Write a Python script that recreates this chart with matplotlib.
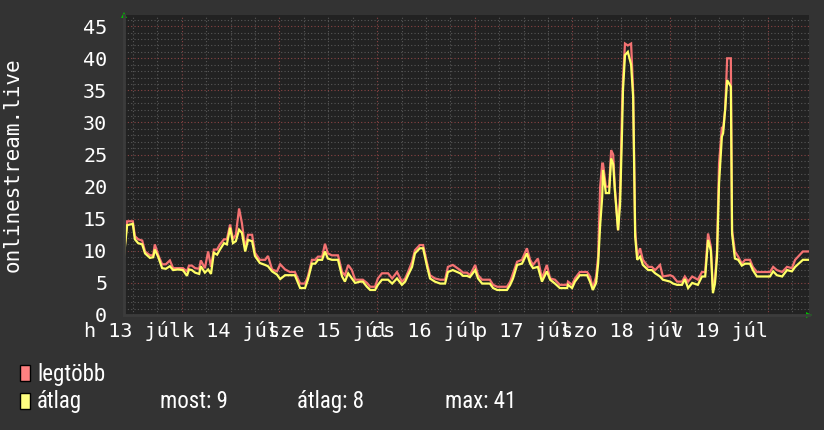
import matplotlib
matplotlib.use("Agg")
import matplotlib.pyplot as plt
from matplotlib import font_manager
from matplotlib.patches import Rectangle

# ido: orak 2015 jul 13 00:00-tol
hours = [
    9.8, 10.6, 12.0, 12.5, 13.3, 14.3, 15.0, 16.2, 17.0, 17.4, 18.2, 19.2, 20.1, 21.1,
    21.9, 23.1, 24.3, 25.3, 25.8, 26.5, 27.3, 28.3, 28.7, 29.7, 30.5, 31.2, 31.9, 32.7,
    33.4, 34.4, 35.1, 35.9, 36.6, 37.3, 38.1, 38.8, 39.6, 40.3, 41.3, 42.0, 43.2, 44.5,
    45.2, 46.2, 47.4, 48.2, 49.4, 50.6, 51.8, 53.1, 54.3, 55.0, 56.0, 56.8, 57.5, 58.5,
    59.2, 59.9, 60.9, 62.4, 63.4, 64.1, 64.9, 65.8, 66.6, 67.8, 68.5, 69.5, 70.3, 71.5,
    72.2, 73.2, 74.7, 75.7, 76.9, 78.1, 78.9, 79.6, 80.6, 81.3, 82.5, 83.3, 84.3, 85.0,
    86.2, 87.5, 88.7, 89.4, 90.6, 92.4, 93.1, 94.1, 94.8, 96.1, 96.8, 97.8, 99.7, 100.5,
    101.5, 103.9, 104.7, 105.4, 106.4, 107.6, 108.8, 109.6, 110.3, 111.5, 112.5, 113.7,
    114.5, 115.7, 116.9, 118.7, 118.9, 119.9, 120.6, 121.8, 123.6, 124.3, 125.0, 125.8,
    126.3, 126.8, 127.3, 127.5, 128.2, 129.0, 129.5, 130.0, 130.4, 131.2, 131.7, 132.2,
    132.4, 132.9, 133.6, 134.4, 134.9, 135.4, 135.9, 136.6, 137.3, 138.6, 139.5, 140.3,
    141.5, 142.2, 144.0, 144.7, 145.7, 146.9, 147.6, 148.4, 149.4, 150.8, 151.8, 152.6,
    153.3, 154.0, 154.5, 155.0, 155.5, 156.0, 156.7, 157.0, 157.5, 158.0, 158.9, 159.2,
    159.9, 160.7, 161.6, 162.4, 163.6, 164.3, 165.3, 168.5, 169.3, 170.2, 171.5, 172.7,
    173.9, 174.7, 176.6, 177.9,
]

legtobb = [
    9.3, 14.6, 14.6, 12.3, 11.8, 11.6, 9.9, 9.3, 9.3, 11.0, 9.4, 7.9, 7.9, 8.5,
    7.3, 7.3, 7.3, 6.8, 7.7, 7.7, 7.3, 7.2, 8.5, 7.3, 9.9, 7.5, 10.2, 10.2,
    11.0, 11.8, 11.8, 14.1, 11.8, 12.5, 16.6, 14.3, 10.4, 12.5, 12.5, 9.7, 8.6, 8.6,
    9.2, 7.1, 6.8, 7.9, 7.1, 6.7, 6.7, 4.9, 4.9, 6.0, 8.6, 8.6, 9.1, 9.1,
    11.1, 9.6, 9.3, 9.3, 6.7, 6.2, 7.8, 7.0, 5.5, 5.5, 5.5, 5.0, 4.4, 4.4,
    5.7, 6.5, 6.5, 5.7, 6.7, 5.2, 5.7, 6.7, 8.3, 10.1, 10.9, 10.9, 8.0, 6.2,
    5.7, 5.5, 5.5, 7.5, 7.8, 7.0, 6.6, 6.6, 6.2, 7.8, 6.2, 5.5, 5.5, 4.7,
    4.4, 4.4, 5.2, 6.5, 8.3, 8.6, 10.4, 8.6, 7.8, 8.8, 5.7, 7.8,
    5.7, 5.5, 4.7, 4.7, 5.2, 4.7, 5.7, 6.7, 6.7, 6.0, 4.2, 6.0,
    9.1, 20.0, 23.6, 23.6, 20.0, 20.0, 25.7, 25.0, 20.0, 13.2, 19.4, 33.0,
    36.6, 42.3, 42.0, 42.3, 35.0, 13.2, 9.1, 10.4, 8.6, 7.5, 7.5, 7.0,
    7.8, 6.0, 6.2, 6.0, 5.2, 5.2, 6.0, 5.2, 6.0, 5.5, 6.7, 6.7,
    12.7, 10.6, 3.9, 5.5, 10.0, 23.6, 29.3, 29.0, 32.0, 40.0, 40.0, 13.2,
    9.9, 9.1, 8.0, 8.6, 8.6, 7.5, 6.7, 6.7, 7.5, 7.0, 6.7, 7.5,
    7.3, 8.6, 9.9, 9.9,
]

atlag = [
    9.0, 14.0, 14.2, 11.8, 11.2, 11.0, 9.6, 8.9, 9.0, 10.2, 9.1, 7.3, 7.2, 7.6,
    7.0, 7.1, 7.0, 6.1, 7.1, 7.0, 6.6, 6.4, 7.6, 6.6, 7.1, 6.4, 9.7, 9.4,
    10.2, 11.2, 11.0, 13.6, 11.2, 11.5, 13.3, 12.8, 9.9, 11.7, 11.5, 9.2, 8.1, 7.8,
    7.6, 6.8, 6.3, 5.6, 6.2, 6.2, 6.2, 4.2, 4.2, 5.5, 8.0, 8.0, 8.6, 8.6,
    9.9, 8.8, 8.6, 8.6, 6.0, 5.2, 6.5, 5.7, 5.0, 5.2, 5.2, 4.4, 3.9, 3.9,
    4.7, 5.5, 5.5, 4.9, 5.7, 4.7, 5.2, 6.2, 7.5, 9.6, 10.4, 10.4, 7.5, 5.7,
    5.2, 4.9, 4.9, 6.7, 7.0, 6.5, 6.1, 6.1, 5.9, 7.0, 5.7, 4.9, 4.9, 4.2,
    3.9, 3.9, 4.7, 5.7, 7.8, 8.0, 9.6, 8.0, 7.3, 7.5, 5.2, 6.8,
    5.5, 4.9, 4.2, 4.2, 4.7, 4.2, 5.2, 6.2, 6.2, 5.2, 3.9, 5.0,
    8.0, 14.0, 18.4, 22.6, 19.0, 19.0, 24.4, 23.5, 19.5, 13.2, 17.4, 29.3,
    35.0, 40.5, 41.0, 39.0, 34.0, 12.2, 8.6, 9.1, 7.8, 7.0, 7.0, 6.5,
    6.0, 5.5, 5.2, 4.9, 4.7, 4.7, 5.6, 4.2, 5.0, 4.7, 6.0, 6.0,
    11.7, 10.0, 3.4, 4.9, 9.1, 20.5, 27.8, 28.3, 32.0, 36.6, 35.6, 12.7,
    8.8, 8.6, 7.7, 8.0, 8.0, 7.0, 6.0, 6.0, 6.8, 6.2, 6.0, 7.0,
    6.8, 7.5, 8.6, 8.6,
]

day_labels = ["h 13 júl", "k 14 júl", "sze 15 júl", "cs 16 júl",
              "p 17 júl", "szo 18 júl", "v 19 júl"]
y_ticks = [0, 5, 10, 15, 20, 25, 30, 35, 40, 45]
summary = {"most": 9, "átlag": 8, "max": 41}

BG = "#333333"
PLOT_BG = "#222222"
RED = "#f47272"
YELLOW = "#ffff66"
TXT = "white"
MONO = "DejaVu Sans Mono"


def pick_font(names):
    for n in names:
        try:
            font_manager.findfont(font_manager.FontProperties(family=n),
                                  fallback_to_default=False)
            return n
        except Exception:
            continue
    return MONO


NARROW = pick_font(["Liberation Sans Narrow", "Roboto Condensed", "DejaVu Sans Condensed"])

W, H = 824, 430
fig = plt.figure(figsize=(W / 100, H / 100), dpi=100, facecolor=BG)
ax = fig.add_axes([124 / W, (H - 315) / H, (809 - 124) / W, (315 - 15) / H])
ax.set_facecolor(PLOT_BG)

x0, x1 = 9.83, 178.1
ax.set_xlim(x0, x1)
ax.set_ylim(0, 46.75)

# racs
ax.set_xticks([24 * k for k in range(1, 8)])
ax.set_xticks([6 * k for k in range(2, 30)], minor=True)
ax.set_yticks(y_ticks)
ax.set_yticks(range(0, 47), minor=True)
ax.grid(which="minor", color="#575757", linestyle=(0, (1, 2)), linewidth=0.8)
ax.grid(which="major", color="#8a4444", linestyle=(0, (1, 2)), linewidth=0.8)
ax.set_axisbelow(True)
ax.tick_params(axis="x", which="both", length=0, labelbottom=False)
ax.tick_params(axis="y", which="both", length=0, pad=12, labelsize=14.5,
               labelcolor=TXT)
for lab in ax.get_yticklabels():
    lab.set_fontfamily(MONO)
for s in ["top", "right"]:
    ax.spines[s].set_visible(False)
for s in ["left", "bottom"]:
    ax.spines[s].set_color("#3c3c3c")
    ax.spines[s].set_linewidth(2)

sec = ax.secondary_xaxis("bottom")
sec.set_xticks([12 + 24 * k for k in range(7)], day_labels)
sec.tick_params(length=0, pad=4, labelsize=14.5, labelcolor=TXT)
for lab in sec.get_xticklabels():
    lab.set_fontfamily(MONO)
sec.spines["bottom"].set_visible(False)

ax.plot(hours, legtobb, color=RED, linewidth=1.6, solid_joinstyle="miter")
ax.plot(hours, atlag, color=YELLOW, linewidth=1.6, solid_joinstyle="miter")

# zold nyilak
ax.plot([0], [1.0], marker="^", color="#00c000", markersize=5,
        transform=ax.transAxes, clip_on=False, markeredgewidth=0)
ax.plot([1.0], [0.0], marker=">", color="#00c000", markersize=5,
        transform=ax.transAxes, clip_on=False, markeredgewidth=0)

fig.text(13 / W, 1 - 165 / H, "onlinestream.live", rotation=90, ha="center",
         va="center", color=TXT, fontsize=15, family=MONO)

# jelmagyarazat
fig.add_artist(Rectangle((20 / W, 1 - 381 / H), 10 / W, 16 / H, facecolor="#ff8080",
                         edgecolor="black", linewidth=1, transform=fig.transFigure))
fig.add_artist(Rectangle((20 / W, 1 - 409 / H), 10 / W, 16 / H, facecolor="#ffff80",
                         edgecolor="black", linewidth=1, transform=fig.transFigure))
leg_kw = dict(color=TXT, fontsize=16.5, family=NARROW, va="baseline", ha="left")
fig.text(37 / W, 1 - 381 / H, "legtöbb", **leg_kw)
fig.text(37 / W, 1 - 408 / H, "átlag", **leg_kw)
fig.text(160 / W, 1 - 408 / H, f"most: {summary['most']}", **leg_kw)
fig.text(297 / W, 1 - 408 / H, f"átlag: {summary['átlag']}", **leg_kw)
fig.text(445 / W, 1 - 408 / H, f"max: {summary['max']}", **leg_kw)

fig.savefig("out.png", dpi=100, facecolor=BG)
